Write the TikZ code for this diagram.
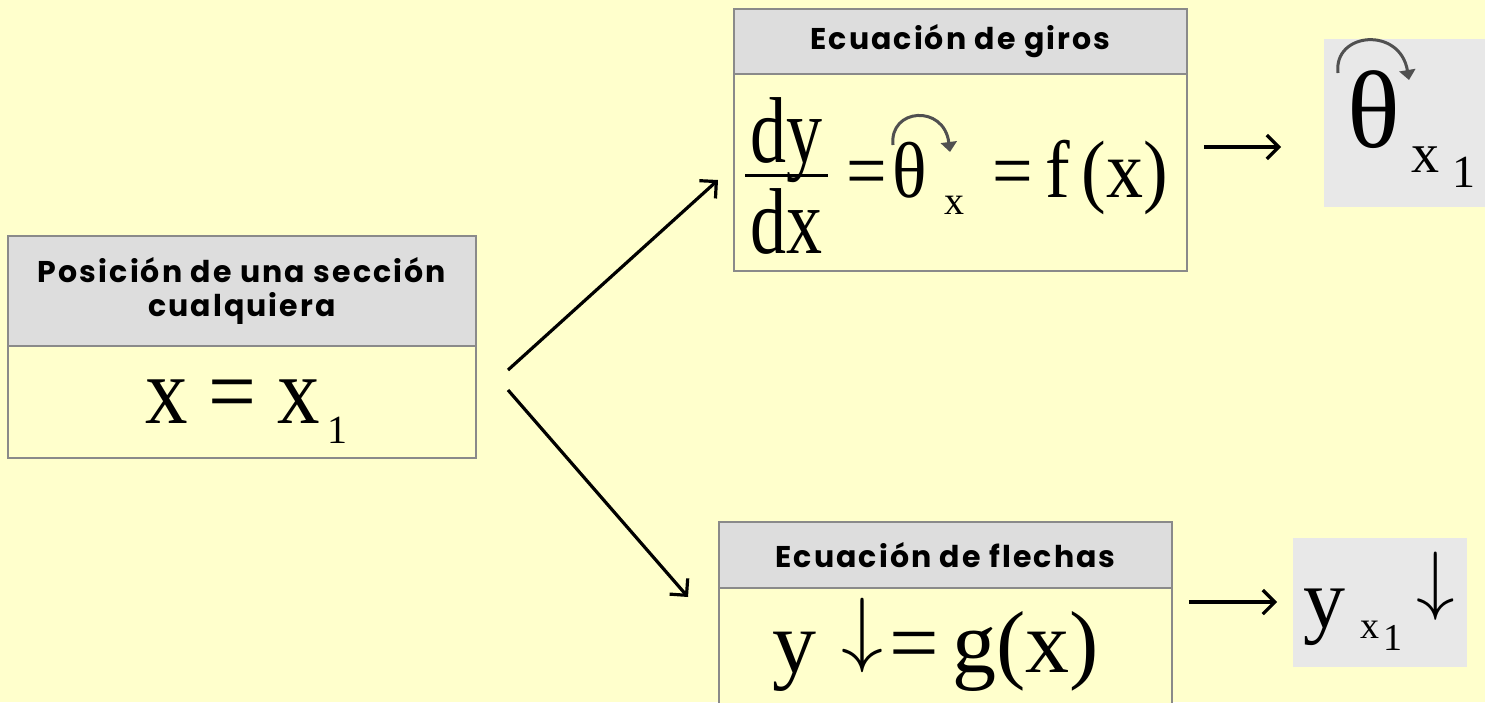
\documentclass[tikz,border=0pt]{standalone}
\usepackage{fontspec}
\setmainfont{Liberation Serif}
\newfontfamily\hdrfont[LetterSpace=7]{Poppins}
\usetikzlibrary{arrows.meta}
\definecolor{bgyel}{HTML}{FFFFCC}
\definecolor{hdrgray}{HTML}{DDDDDD}
\definecolor{boxline}{HTML}{8A8A8A}
\definecolor{resgray}{HTML}{E8E8E8}
\definecolor{rotgray}{HTML}{505050}
\newcommand{\fs}[1]{\fontsize{#1}{#1}\selectfont}
\begin{document}
\begin{tikzpicture}[x=1pt,y=-1pt,
  hdrbox/.style={draw=boxline,line width=1.5pt,fill=hdrgray,inner sep=0pt,align=center,font=\hdrfont\bfseries\fs{30}},
  bodybox/.style={draw=boxline,line width=1.5pt,fill=bgyel,inner sep=0pt},
  resbox/.style={fill=resgray,inner sep=0pt},
  txt/.style={inner sep=0pt,outer sep=0pt},
  flow/.style={line width=3.2pt,-{Straight Barb[length=12pt,width=24pt,line width=3.2pt]}},
  rot/.style={draw=rotgray,line width=3pt,-{Triangle[length=10pt,width=16pt]}}]
\fill[bgyel] (0,0) rectangle (1485,702);
\useasboundingbox (0,0) rectangle (1485,702);
% left box
\node[bodybox,minimum width=468pt,minimum height=112pt] (lbody) at (242,402) {};
\node[hdrbox,minimum width=468pt,minimum height=110pt] (lhdr) at (242,291) {Posición de una sección\\[4pt]cualquiera};
\node[txt,anchor=base west] (lx) at (145,423) {\scalebox{1}[1.12]{\fs{85}x = x}};
\node[txt,anchor=base west] (lone) at (327,443) {\fs{40}1};
% top box
\node[bodybox,minimum width=453pt,minimum height=197pt] (tbody) at (960.5,172.5) {};
\node[hdrbox,minimum width=453pt,minimum height=65pt] (thdr) at (960.5,41.5) {Ecuación de giros};
\node[txt,anchor=base] (dy) at (786,162) {\scalebox{1}[1.3]{\fs{72}dy}};
\node[txt,anchor=base] (dx) at (786,253) {\scalebox{1}[1.3]{\fs{72}dx}};
\draw[line width=3pt] (745,175) coordinate (barl) -- (828,175) coordinate (barr);
\node[txt,anchor=base] (eq1) at (867,197) {\scalebox{1}[1.1]{\fs{72}=}};
\node[txt,anchor=base] (th) at (910,197) {\scalebox{1}[1.1]{\fs{72}θ}};
\node[txt,anchor=base] (thx) at (954,214) {\fs{40}x};
\node[txt,anchor=base] (eq2) at (1013,197) {\scalebox{1}[1.1]{\fs{72}=}};
\node[txt,anchor=base west] (fx) at (1045,197) {\scalebox{1}[1.1]{\fs{74}f\,(x)}};
\coordinate (ta) at (893,145);
\coordinate (tb) at (950,152);
\draw[rot] (ta) .. controls (889,108) and (944,104) .. (tb);
% bottom box
\node[bodybox,minimum width=453pt,minimum height=130pt] (bbody) at (945.5,653) {};
\node[hdrbox,minimum width=453pt,minimum height=66pt] (bhdr) at (945.5,555) {Ecuación de flechas};
\node[txt,anchor=base west] (by) at (772,672) {\fs{88}y};
\node[txt,anchor=base] (bar) at (862,656) {\scalebox{8.4}{$\downarrow$}};
\node[txt,anchor=base west] (bg) at (889,672) {\fs{88}=\kern14pt g(x)};
% result boxes
\node[resbox,minimum width=161pt,minimum height=168pt] (rth) at (1404.5,123) {};
\node[txt,anchor=base] (rtheta) at (1374,147) {\fs{110}θ};
\node[txt,anchor=base west] (rx) at (1411,172) {\fs{56}x};
\node[txt,anchor=base west] (r1) at (1452,187) {\fs{46}1};
\coordinate (ra) at (1338,73);
\coordinate (rb) at (1409,80);
\draw[rot] (ra) .. controls (1333,32) and (1400,26) .. (rb);
\node[resbox,minimum width=174pt,minimum height=129pt] (ry) at (1380,602.5) {};
\node[txt,anchor=base west] (ryy) at (1303,627) {\fs{84}y};
\node[txt,anchor=base west] (ryx) at (1360,638) {\fs{38}x};
\node[txt,anchor=base west] (ry1) at (1383,650) {\fs{38}1};
\node[txt,anchor=base] (rarr) at (1436,605) {\scalebox{7.7}{$\downarrow$}};
% connectors
\coordinate (s1) at (508,370);
\coordinate (e1) at (718,180);
\coordinate (s2) at (508,390);
\coordinate (e2) at (688,597);
\draw[flow] (s1) -- (e1);
\draw[flow] (s2) -- (e2);
\draw[flow] (tbody.east |- 0,147) ++(16,0) coordinate (s3) -- (1281,147) coordinate (e3);
\draw[flow] (bbody.east |- 0,602) ++(16,0) coordinate (s4) -- (1277,602) coordinate (e4);
\end{tikzpicture}
\end{document}
